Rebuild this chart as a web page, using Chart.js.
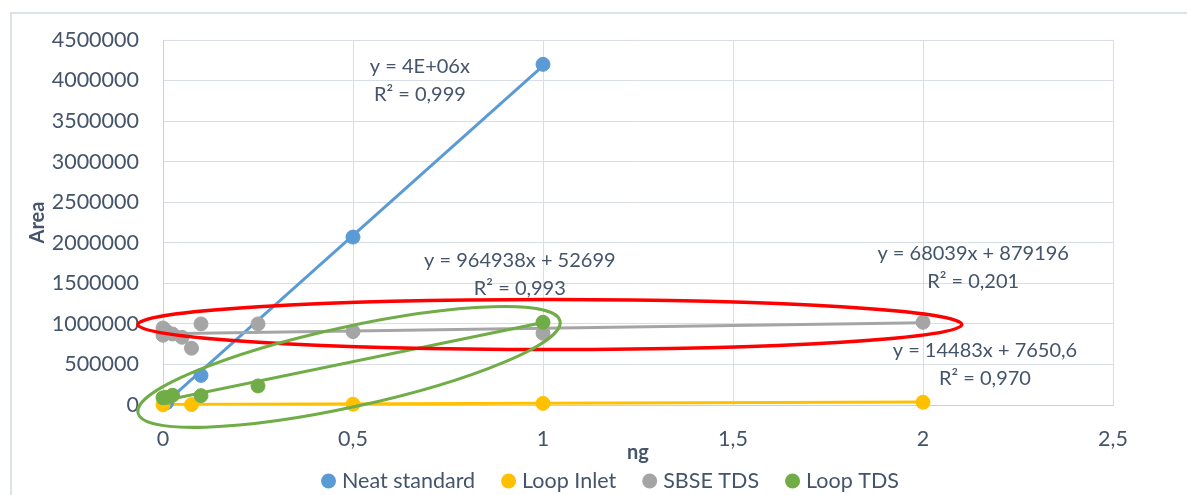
<!DOCTYPE html>
<html>
<head>
<meta charset="utf-8">
<script src="https://cdn.jsdelivr.net/npm/chart.js@4.4.0/dist/chart.umd.min.js"></script>
<style>
  html, body { margin: 0; padding: 0; background: #fff; }
  #wrap { position: relative; width: 1187px; height: 495px; overflow: hidden; }
  #frame { position: absolute; left: 10px; top: 12px; width: 1190px; height: 500px; border: 2px solid #dde2ea; }
  canvas { position: absolute; left: 0; top: 0; }
</style>
</head>
<body>
<div id="wrap">
  <div id="frame"></div>
  <canvas id="chart" width="1187" height="495"></canvas>
</div>
<script>
// calibration data (ng vs peak area)
const seriesNames = ['Neat standard', 'Loop Inlet', 'SBSE TDS', 'Loop TDS'];
const seriesColors = ['#5b9bd5', '#ffc000', '#a5a5a5', '#70ad47'];

const neatX = [0.01, 0.1, 0.5, 1];
const neatY = [30000, 365000, 2070000, 4200000];
const inletX = [0, 0.075, 0.5, 1, 2];
const inletY = [3000, 5000, 10000, 20000, 34000];
const sbseX = [0, 0, 0.01, 0.025, 0.05, 0.075, 0.1, 0.25, 0.5, 1, 2];
const sbseY = [950000, 860000, 905000, 875000, 835000, 700000, 1000000, 1000000, 905000, 885000, 1020000];
const loopX = [0, 0.01, 0.025, 0.1, 0.25, 1];
const loopY = [90000, 95000, 120000, 115000, 235000, 1020000];

// linear trendlines
const trendSlope = [4.18e6, 14483, 68039, 964938];
const trendIntercept = [0, 7650.6, 879196, 52699];
const trendR2 = ['0,999', '0,970', '0,201', '0,993'];
const trendFrom = [0, 0, 0, 0];
const trendTo = [1, 2, 2, 1];
// where each equation label sits (ng, area)
const labelX = [0.676, 2.163, 2.132, 0.939];
const labelY = [4000000, 493000, 1689000, 1603000];

const xTicks = [0, 0.5, 1, 1.5, 2, 2.5];

const textColor = '#44546a';
const gridColor = '#d9dee6';
const fontFamily = 'Lato, "Open Sans", sans-serif';

const seriesX = [neatX, inletX, sbseX, loopX];
const seriesY = [neatY, inletY, sbseY, loopY];

function fmtNum(v) {
  if (Math.abs(v) >= 1e6) {
    const parts = v.toExponential(0).split('e');
    const ex = parseInt(parts[1], 10);
    return parts[0] + 'E' + (ex < 0 ? '-' : '+') + String(Math.abs(ex)).padStart(2, '0');
  }
  return String(v).replace('.', ',');
}

function eqText(i) {
  let s = 'y = ' + fmtNum(trendSlope[i]) + 'x';
  if (trendIntercept[i]) s += ' + ' + fmtNum(trendIntercept[i]);
  return s;
}

const datasets = [];
seriesNames.forEach((name, i) => {
  datasets.push({
    label: name,
    data: seriesX[i].map((x, k) => ({ x: x, y: seriesY[i][k] })),
    backgroundColor: seriesColors[i],
    borderColor: seriesColors[i],
    pointRadius: 7,
    pointBorderWidth: 1,
    showLine: false,
    clip: false,
    order: 4 - i,
    inLegend: true
  });
});
seriesNames.forEach((name, i) => {
  const xs = [trendFrom[i], trendTo[i]];
  datasets.push({
    label: name + ' trend',
    data: xs.map(x => ({ x: x, y: trendSlope[i] * x + trendIntercept[i] })),
    borderColor: seriesColors[i],
    borderWidth: 3,
    pointRadius: 0,
    showLine: true,
    order: 8 - i,
    inLegend: false
  });
});

// highlighted regions: center in data units, radii in px, rotation in degrees
const ellipses = [
  { cx: 1.018, cy: 992000, rx: 412, ry: 25, rot: 0, color: '#ff0000', width: 3.5 },
  { cx: 0.4895, cy: 468600, rx: 216, ry: 40, rot: -12.3, color: '#70ad47', width: 3 }
];

const overlay = {
  id: 'overlay',
  afterDatasetsDraw(chart) {
    const ctx = chart.ctx;
    const xs = chart.scales.x, ys = chart.scales.y;

    // trendline equations
    ctx.save();
    ctx.font = '20px ' + fontFamily;
    ctx.fillStyle = textColor;
    ctx.textAlign = 'center';
    ctx.textBaseline = 'middle';
    for (let i = 0; i < trendSlope.length; i++) {
      const px = xs.getPixelForValue(labelX[i]);
      const py = ys.getPixelForValue(labelY[i]);
      ctx.fillText(eqText(i), px, py - 14);
      ctx.fillText('R\u00b2 = ' + trendR2[i], px, py + 14);
    }
    ctx.restore();

    // ellipses
    ellipses.forEach(e => {
      ctx.save();
      ctx.beginPath();
      ctx.ellipse(xs.getPixelForValue(e.cx), ys.getPixelForValue(e.cy), e.rx, e.ry,
        e.rot * Math.PI / 180, 0, Math.PI * 2);
      ctx.strokeStyle = e.color;
      ctx.lineWidth = e.width;
      ctx.stroke();
      ctx.restore();
    });
  },
  afterDraw(chart) {
    // legend along the bottom
    const ctx = chart.ctx;
    const items = chart.data.datasets.filter(d => d.inLegend);
    ctx.save();
    ctx.font = '21.5px ' + fontFamily;
    ctx.textBaseline = 'middle';
    const r = 7.5, gap = 6, spacing = 26;
    const widths = items.map(d => 2 * r + gap + ctx.measureText(d.label).width);
    const total = widths.reduce((a, b) => a + b, 0) + spacing * (items.length - 1);
    let x = 610 - total / 2;
    const y = 481;
    items.forEach((d, i) => {
      ctx.beginPath();
      ctx.arc(x + r, y, r, 0, Math.PI * 2);
      ctx.fillStyle = d.backgroundColor;
      ctx.fill();
      ctx.fillStyle = textColor;
      ctx.fillText(d.label, x + 2 * r + gap, y);
      x += widths[i] + spacing;
    });
    ctx.restore();
  }
};

new Chart(document.getElementById('chart').getContext('2d'), {
  type: 'scatter',
  data: { datasets: datasets },
  plugins: [overlay],
  options: {
    responsive: false,
    animation: false,
    layout: { padding: { left: 10, right: 74, top: 40, bottom: 28 } },
    plugins: { legend: { display: false }, tooltip: { enabled: false } },
    scales: {
      x: {
        type: 'linear',
        min: 0,
        max: 2.5,
        afterBuildTicks: s => { s.ticks = xTicks.map(v => ({ value: v })); },
        afterFit: s => { s.height = 62; },
        ticks: {
          padding: 21,
          color: textColor,
          font: { family: fontFamily, size: 21.5 },
          callback: v => String(v).replace('.', ',')
        },
        grid: { color: gridColor, drawTicks: false },
        border: { color: '#c9d0da' },
        title: {
          display: true,
          text: 'ng',
          color: textColor,
          font: { family: fontFamily, size: 20, weight: 'bold' },
          padding: { top: 0, bottom: 2 }
        }
      },
      y: {
        min: 0,
        max: 4500000,
        afterFit: s => { s.width = 153; },
        ticks: {
          stepSize: 500000,
          padding: 24,
          color: textColor,
          font: { family: fontFamily, size: 21.5 },
          callback: v => String(v)
        },
        grid: { color: gridColor, drawTicks: false },
        border: { color: '#c9d0da' },
        title: {
          display: true,
          text: 'Area',
          color: textColor,
          font: { family: fontFamily, size: 20, weight: 'bold' },
          padding: { top: 16, bottom: 0 }
        }
      }
    }
  }
});
</script>
</body>
</html>
